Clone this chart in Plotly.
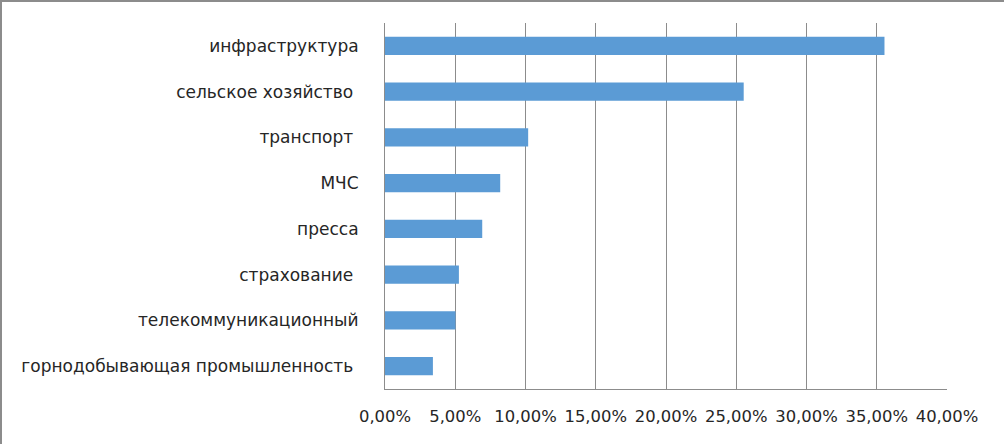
import plotly.graph_objects as go

categories = [
    "инфраструктура",
    "сельское хозяйство ",
    "транспорт ",
    "МЧС",
    "пресса",
    "страхование ",
    "телекоммуникационный",
    "горнодобывающая промышленность ",
]
shares = [0.3555, 0.2553, 0.1019, 0.0820, 0.0692, 0.0526, 0.0502, 0.0341]

W, H = 1004, 444
ML, MR, MT, MB = 385, 57, 23, 55
pw, ph = W - ML - MR, H - MT - MB

fig = go.Figure(go.Bar(
    x=shares, y=categories, orientation="h",
    marker=dict(color="#5b9bd5", line=dict(width=0)),
    width=0.4,
))

fig.update_layout(
    width=W, height=H,
    margin=dict(l=ML, r=MR, t=MT, b=MB),
    paper_bgcolor="white", plot_bgcolor="white",
    separators=", ",
    showlegend=False,
    font=dict(family="DejaVu Sans", size=16, color="#262626"),
    xaxis=dict(
        range=[0, 0.4], dtick=0.05, tickformat=".2%",
        showgrid=True, gridcolor="#8c8c8c", gridwidth=1,
        showline=True, linecolor="#8c8c8c", linewidth=1,
        zeroline=False, ticks="", ticklabelstandoff=12,
        tickfont=dict(size=16.4),
        fixedrange=True,
    ),
    yaxis=dict(
        autorange="reversed",
        showline=True, linecolor="#8c8c8c", linewidth=1,
        showgrid=False, ticks="", ticklabelstandoff=22,
        tickfont=dict(size=17),
        fixedrange=True,
    ),
    shapes=[
        dict(type="line", xref="paper", yref="paper",
             x0=-ML / pw, x1=(W - ML) / pw, y0=1 + (MT - 1) / ph, y1=1 + (MT - 1) / ph,
             line=dict(color="#8c8c8c", width=2)),
        dict(type="line", xref="paper", yref="paper",
             x0=-(ML - 1) / pw, x1=-(ML - 1) / pw, y0=-MB / ph, y1=1 + MT / ph,
             line=dict(color="#8c8c8c", width=2)),
    ],
)

fig.write_html("out.html", config=dict(displayModeBar=False),
               post_script="document.body.style.margin='0';")
